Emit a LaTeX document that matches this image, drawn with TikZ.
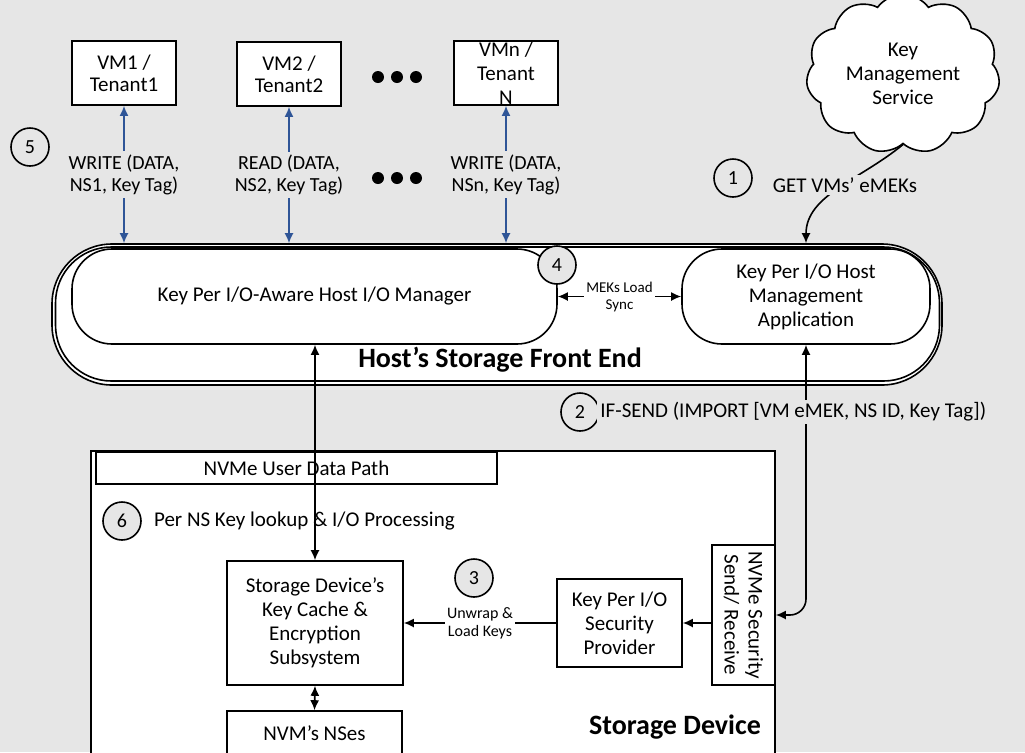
\documentclass[tikz,border=0pt]{standalone}
\usepackage{fontspec}
\setmainfont{Carlito}
\usepackage{tikz}
\usetikzlibrary{shapes,shapes.symbols,arrows.meta,positioning}
\usetikzlibrary{calc}
\definecolor{bggray}{HTML}{E6E6E6}
\definecolor{vmblue}{HTML}{2F5597}

\begin{document}
\begin{tikzpicture}
  [
    x=0.5pt, y=-0.5pt,
    >={Latex[length=5pt, width=4.5pt]},
    Box/.style={rectangle, draw=black, fill=white, thick, align=center, inner sep=1pt, font=\fontsize{10.5}{12}\selectfont},
    VmBox/.style={Box, minimum width=52pt, minimum height=32pt, font=\fontsize{10.5}{11}\selectfont},
    Pill/.style={rectangle, rounded corners=20pt, draw=black, fill=white, thick, align=center, font=\fontsize{10.5}{12}\selectfont},
    Step/.style={circle, draw=black, fill=bggray, thick, minimum size=19pt, inner sep=0pt, font=\fontsize{10}{12}\selectfont},
    Tag/.style={fill=bggray, align=center, inner sep=1.5pt, font=\fontsize{10}{11}\selectfont},
    Small/.style={fill=white, align=center, inner sep=1pt, font=\fontsize{7.5}{8.5}\selectfont},
    Title/.style={font=\fontsize{14}{16}\selectfont\bfseries},
    Dot/.style={circle, fill=black, minimum size=6pt, inner sep=0pt}
  ]
  \useasboundingbox (0,0) rectangle (1025,752);
  \fill[bggray] (0,0) rectangle (1025,752);

  % Nodes
  \node[VmBox] (vm1) at(124, 73) {VM1 /\\Tenant1};
  \node[VmBox] (vm2) at(289, 74) {VM2 /\\Tenant2};
  \node[VmBox, label={[align=center, font=\fontsize{10.5}{12}\selectfont]center:VMn /\\Tenant\\N}] (vmn) at(506, 73) {};
  \node[Dot] (d1) at(378, 77) {};
  \node[Dot] (d2) at(397, 77) {};
  \node[Dot] (d3) at(416, 77) {};
  \node[Dot] (d4) at(378, 178) {};
  \node[Dot] (d5) at(397, 178) {};
  \node[Dot] (d6) at(416, 178) {};
  \node[cloud, cloud puffs=11, cloud puff arc=110, aspect=1.3, draw=black, fill=white, thick,
        minimum width=86pt, minimum height=65pt, align=center, font=\fontsize{10.5}{12}\selectfont] (kms) at(903, 74) {Key\\Management\\Service};

  \node[Pill, rounded corners=30pt, minimum width=445pt, minimum height=70.5pt] (front) at(497, 314.5) {};
  \node[Pill, rounded corners=28pt, fill=none, minimum width=442pt, minimum height=67pt] (front2) at(497.5, 314) {};
  \node[Pill, minimum width=242.5pt, minimum height=47.5pt] (mgr) at(314.5, 296.5) {Key Per I/O-Aware Host I/O Manager};
  \node[Pill, minimum width=124pt, minimum height=47.5pt] (app) at(806, 296.5) {Key Per I/O Host\\Management\\Application};
  \node[Title] (fetitle) at(500, 360) {Host’s Storage Front End};

  \node[Box, minimum width=342pt, minimum height=154.5pt] (dev) at(433, 605.5) {};
  \node[Box, minimum width=200.5pt, minimum height=16pt] (path) at(296.5, 468) {NVMe User Data Path};
  \node[Box, minimum width=88pt, minimum height=62pt] (cache) at(315, 623) {Storage Device’s\\Key Cache \&\\Encryption\\Subsystem};
  \node[Box, minimum width=62.5pt, minimum height=44pt] (prov) at(619.5, 623) {Key Per I/O\\Security\\Provider};
  \node[Box, rotate=-90, minimum width=70pt, minimum height=31.5pt] (nvsec) at(743.5, 615) {NVMe Security\\Send/ Receive};
  \node[Box, minimum width=87.5pt, minimum height=22pt] (nses) at(314.5, 733) {NVM’s NSes};
  \node[Title, anchor=east] (devtitle) at(768, 727) {Storage Device};

  \node[Step] (s5) at(30, 147) {5};
  \node[Step] (s1) at(733, 178) {1};
  \node[Step] (s4) at(557, 265) {4};
  \node[Step] (s2) at(580, 412) {2};
  \node[Step] (s6) at(122, 521) {6};
  \node[Step] (s3) at(474, 578) {3};
  \node[anchor=west, font=\fontsize{10.5}{12}\selectfont] (lookup) at(147, 521) {Per NS Key lookup \& I/O Processing};

  % Lines
  \path [<->, draw, thick, vmblue] (vm1.south) -- node[Tag, text=black] {WRITE (DATA,\\NS1, Key Tag)} (vm1.south |- front.north);
  \path [<->, draw, thick, vmblue] (vm2.south) -- node[Tag, text=black] {READ (DATA,\\NS2, Key Tag)} (vm2.south |- front.north);
  \path [<->, draw, thick, vmblue] (vmn.south) -- node[Tag, text=black] {WRITE (DATA,\\NSn, Key Tag)} (vmn.south |- front.north);
  \path [->, draw, thick] (kms.south) .. controls (860, 180) and (806, 195) .. (app.north |- front.north);
  \node[Tag, font=\fontsize{10.5}{12}\selectfont] (getlbl) at(845, 185) {GET VMs’ eMEKs};
  \path [<->, draw, thick] (mgr.east) -- node[Small] {MEKs Load\\Sync} (app.west);
  \path [<->, draw, thick] (cache.north) -- (cache.north |- mgr.south);
  \path [<->, draw, thick, rounded corners=8pt] (nvsec.north) -| (app.south);
  \node[Tag, anchor=west, font=\fontsize{10.5}{12}\selectfont] (ifsend) at(597, 412) {IF-SEND (IMPORT [VM eMEK, NS ID, Key Tag])};
  \path [->, draw, thick] (prov.west) -- node[Small, font=\fontsize{8}{9}\selectfont] {Unwrap \&\\Load Keys} (cache.east);
  \path [->, draw, thick] (prov.east -| nvsec.south) -- (prov.east);
  \path [<->, draw, thick] (cache.south) -- (nses.north);

\end{tikzpicture}
\end{document}
